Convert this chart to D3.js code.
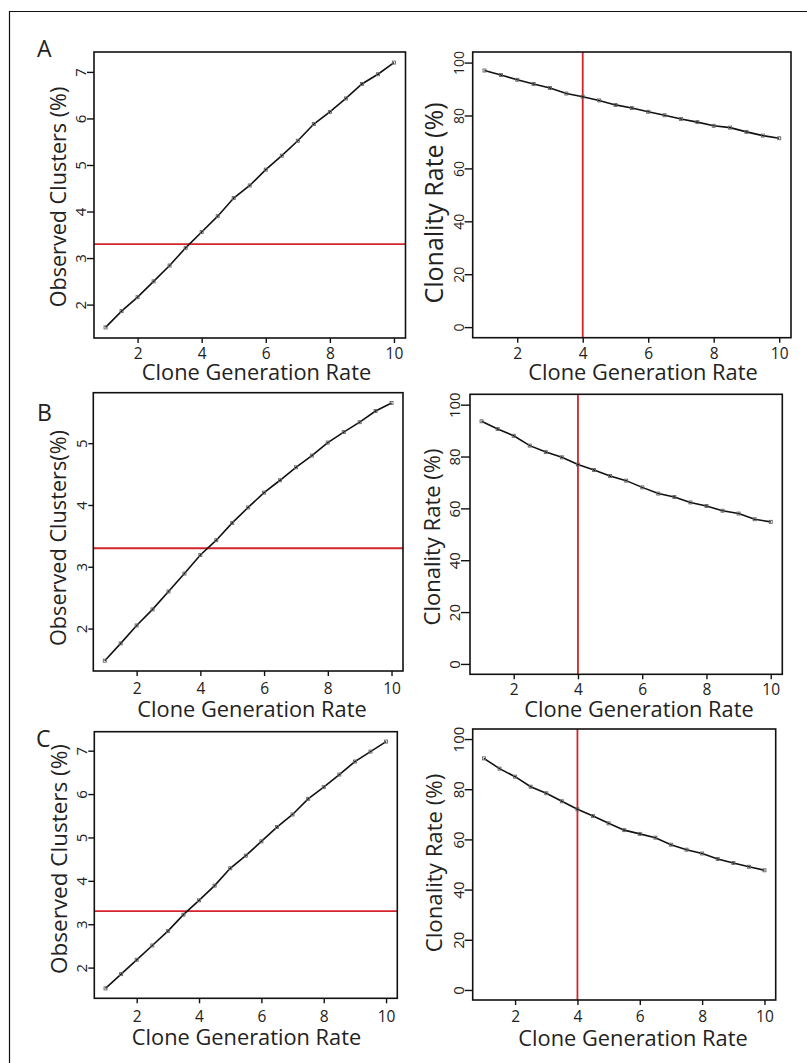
<html>
<head>
<title>Clone generation rate</title>
<script src="https://cdnjs.cloudflare.com/ajax/libs/d3/7.8.5/d3.min.js"></script>
<style>
body { margin: 0; background: #fff; }
text { font-family: "Open Sans", "Noto Sans", sans-serif; fill: #222; }
</style>
</head>
<body>
<svg id="chart" width="807" height="1063"></svg>
<script>
// generation rate steps (shared x values)
var rates = [1, 1.5, 2, 2.5, 3, 3.5, 4, 4.5, 5, 5.5, 6, 6.5, 7, 7.5, 8, 8.5, 9, 9.5, 10];

var clustersA = [1.51, 1.86, 2.16, 2.50, 2.84, 3.22, 3.56, 3.90, 4.29, 4.56, 4.90, 5.20, 5.52, 5.88, 6.14, 6.43, 6.74, 6.95, 7.20];
var clonalityA = [97.0, 95.3, 93.5, 91.9, 90.4, 88.3, 87.1, 85.7, 84.0, 82.8, 81.4, 80.1, 78.7, 77.5, 76.1, 75.4, 73.8, 72.4, 71.4];
var clustersB = [1.48, 1.76, 2.05, 2.31, 2.60, 2.89, 3.19, 3.43, 3.71, 3.96, 4.20, 4.40, 4.61, 4.80, 5.01, 5.18, 5.34, 5.52, 5.65];
var clonalityB = [93.6, 90.6, 88.0, 84.2, 81.7, 79.7, 76.9, 74.8, 72.5, 70.7, 68.1, 65.7, 64.4, 62.3, 60.9, 59.1, 58.0, 55.8, 54.8];
var clustersC = [1.52, 1.85, 2.18, 2.51, 2.84, 3.22, 3.55, 3.89, 4.29, 4.58, 4.91, 5.24, 5.53, 5.89, 6.16, 6.45, 6.75, 6.98, 7.21];
var clonalityC = [92.3, 88.2, 85.0, 81.0, 78.4, 75.2, 72.0, 69.3, 66.4, 63.7, 62.2, 60.7, 57.9, 55.9, 54.4, 52.2, 50.6, 49.1, 47.7];

var rateTicks = [2, 4, 6, 8, 10];
var clusterTicksA = [2, 3, 4, 5, 6, 7];
var clusterTicksB = [2, 3, 4, 5];
var clusterTicksC = [2, 3, 4, 5, 6, 7];
var clonalityTicks = [0, 20, 40, 60, 80, 100];
var clonalityRange = [0, 100];

var clusterCutoff = 3.3;
var rateCutoff = 4;

var xTitle = 'Clone Generation Rate';
var rateTitle = 'Clonality Rate (%)';

// layout of the six panels, measured from the figure
// box: [left, right, top, bottom]; xl/yl: label offsets; xt/yt: title x, y, font size
var panels = [
    { vals: clustersA, yTicks: clusterTicksA, kind: 'h', title: 'Observed Clusters (%)',
      box: [94, 405.5, 52, 338], xl: 21, yl: 8, yfs: 15,
      xt: [256.5, 380, 21.8], yt: [66, 197, 21.6] },
    { vals: clonalityA, yTicks: clonalityTicks, kind: 'v', title: rateTitle,
      box: [472.7, 791, 52, 337.7], xl: 21, yl: 9, yfs: 14,
      xt: [643, 380, 21.8], yt: [443, 203, 25] },
    { vals: clustersB, yTicks: clusterTicksB, kind: 'h', title: 'Observed Clusters(%)',
      box: [93.3, 403, 392.7, 671], xl: 23, yl: 6, yfs: 15,
      xt: [252, 717, 21.8], yt: [66, 538, 21.7] },
    { vals: clonalityB, yTicks: clonalityTicks, kind: 'v', title: rateTitle,
      box: [470, 782.3, 394.3, 674.3], xl: 21, yl: 10, yfs: 15,
      xt: [639, 717, 21.8], yt: [440, 537, 22] },
    { vals: clustersC, yTicks: clusterTicksC, kind: 'h', title: 'Observed Clusters (%)',
      box: [94.3, 397.3, 731.7, 998.3], xl: 24, yl: 7, yfs: 15,
      xt: [246.5, 1045, 21.8], yt: [67, 859, 22.5] },
    { vals: clonalityC, yTicks: clonalityTicks, kind: 'v', title: rateTitle,
      box: [472.7, 775.7, 729, 1000], xl: 22, yl: 9, yfs: 15,
      xt: [633, 1046, 21.8], yt: [442, 863, 22.2] }
];

var letters = [['A', 37, 57], ['B', 37, 421], ['C', 36, 747]];

// R style axis range: data range widened by 4%
function pad(ext) {
    var d = (ext[1] - ext[0]) * 0.04;
    return [ext[0] - d, ext[1] + d];
}

var svg = d3.select('#chart');

svg.append('path')
    .attr('d', 'M9.5,1063V11.5H807')
    .attr('fill', 'none')
    .attr('stroke', '#111')
    .attr('stroke-width', 1.2);

svg.selectAll('.letter')
    .data(letters)
    .enter()
    .append('text')
    .attr('class', 'letter')
    .attr('x', function (d) { return d[1]; })
    .attr('y', function (d) { return d[2]; })
    .style('font-size', '23px')
    .text(function (d) { return d[0]; });

panels.forEach(function (p) {
    var b = p.box;
    var x = d3.scaleLinear().domain(pad(d3.extent(rates))).range([b[0], b[1]]);
    var yDom = p.kind === 'h' ? pad(d3.extent(p.vals)) : pad(clonalityRange);
    var y = d3.scaleLinear().domain(yDom).range([b[3], b[2]]);
    var g = svg.append('g');

    // x axis
    var xa = g.append('g')
        .attr('transform', 'translate(0,' + b[3] + ')')
        .call(d3.axisBottom(x).tickValues(rateTicks).tickFormat(d3.format('d')).tickSize(5).tickSizeOuter(0));
    xa.select('.domain').remove();
    xa.selectAll('line').attr('stroke', '#111').attr('stroke-width', 1.4);
    xa.selectAll('text')
        .attr('y', p.xl)
        .attr('dy', 0)
        .attr('fill', '#222')
        .style('font-size', '15.5px')
        .style('font-family', '"Open Sans", sans-serif');

    // y axis, labels turned like R's las = 0
    var ya = g.append('g')
        .attr('transform', 'translate(' + b[0] + ',0)')
        .call(d3.axisLeft(y).tickValues(p.yTicks).tickFormat(d3.format('d')).tickSize(p.yl - 1).tickSizeOuter(0));
    ya.select('.domain').remove();
    ya.selectAll('line').attr('stroke', '#111').attr('stroke-width', 1.4);
    ya.selectAll('text')
        .attr('x', 0)
        .attr('dy', 0)
        .attr('text-anchor', 'middle')
        .attr('transform', 'translate(' + (-p.yl) + ',0) rotate(-90)')
        .attr('fill', '#222')
        .style('font-size', p.yfs + 'px')
        .style('font-family', '"Open Sans", sans-serif');

    // cutoff line
    if (p.kind === 'h') {
        g.append('line')
            .attr('x1', b[0]).attr('x2', b[1])
            .attr('y1', y(clusterCutoff)).attr('y2', y(clusterCutoff))
            .attr('stroke', '#d3232b').attr('stroke-width', 1.8);
    } else {
        g.append('line')
            .attr('x1', x(rateCutoff)).attr('x2', x(rateCutoff))
            .attr('y1', b[2]).attr('y2', b[3])
            .attr('stroke', '#d3232b').attr('stroke-width', 1.8);
    }

    var pts = rates.map(function (r, i) { return [r, p.vals[i]]; });

    g.append('path')
        .datum(pts)
        .attr('fill', 'none')
        .attr('stroke', '#111')
        .attr('stroke-width', 1.6)
        .attr('d', d3.line()
            .x(function (d) { return x(d[0]); })
            .y(function (d) { return y(d[1]); }));

    g.selectAll('.pt')
        .data(pts)
        .enter()
        .append('rect')
        .attr('class', 'pt')
        .attr('x', function (d) { return x(d[0]) - 1.5; })
        .attr('y', function (d) { return y(d[1]) - 1.5; })
        .attr('width', 3)
        .attr('height', 3)
        .attr('fill', 'none')
        .attr('stroke', '#666')
        .attr('stroke-width', 0.9);

    g.append('rect')
        .attr('x', b[0]).attr('y', b[2])
        .attr('width', b[1] - b[0]).attr('height', b[3] - b[2])
        .attr('fill', 'none')
        .attr('stroke', '#111')
        .attr('stroke-width', 1.6);

    g.append('text')
        .attr('x', p.xt[0])
        .attr('y', p.xt[1])
        .attr('text-anchor', 'middle')
        .style('font-size', p.xt[2] + 'px')
        .text(xTitle);

    g.append('text')
        .attr('transform', 'translate(' + p.yt[0] + ',' + p.yt[1] + ') rotate(-90)')
        .attr('text-anchor', 'middle')
        .style('font-size', p.yt[2] + 'px')
        .text(p.title);
});
</script>
</body>
</html>
